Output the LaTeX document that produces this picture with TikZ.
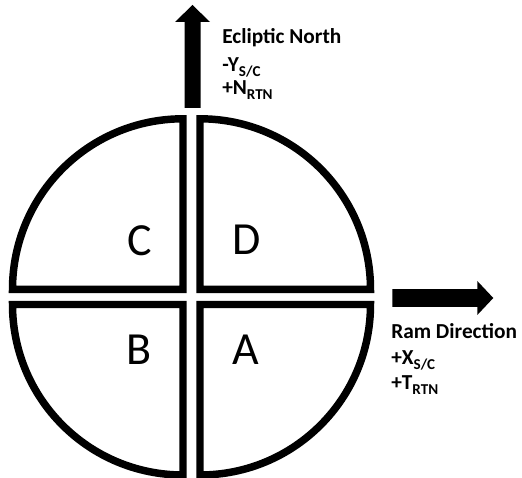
\documentclass[tikz,border=0pt]{standalone}
\usepackage{fontspec}
\setmainfont{Carlito}
\newcommand\sbs[1]{\raisebox{-3.7pt}{\fontsize{11.3pt}{13pt}\selectfont\bfseries #1}}
\begin{document}
\begin{tikzpicture}[x=0.75pt,y=0.75pt,
  quad/.style={draw=black,line width=5.6pt,line join=miter,fill=white},
  lbl/.style={inner sep=0pt,anchor=base west,font=\fontsize{16pt}{19pt}\selectfont\bfseries},
  big/.style={inner sep=0pt,anchor=base,font=\fontsize{34.5pt}{40pt}\selectfont},
  arr/.style={fill=black,draw=none}]
\useasboundingbox (0,0) rectangle (522,478);
\def\R{170.5}
% quadrants
\draw[quad] (183,188.7) -- ++(-\R,0) arc[start angle=180,end angle=90,radius=\R] -- cycle;
\draw[quad] (200,188.7) -- ++(\R,0) arc[start angle=0,end angle=90,radius=\R] -- cycle;
\draw[quad] (183,173.5) -- ++(-\R,0) arc[start angle=180,end angle=270,radius=\R] -- cycle;
\draw[quad] (200,173.5) -- ++(\R,0) arc[start angle=0,end angle=-90,radius=\R] -- cycle;
% letters
\node[big] (C) at (139.5,222.5) {C};
\node[big] (D) at (246.5,223) {D};
\node[big] (B) at (139.5,113.7) {B};
\node[big] (A) at (245.5,113.7) {A};
% up arrow
\fill[arr] (184.5,370) -- (184.5,456) -- (175,456) -- (192.5,473) -- (210,456) -- (200.5,456) -- (200.5,370) -- cycle;
% right arrow
\fill[arr] (392.3,171.2) -- (477.3,171.2) -- (477.3,163) -- (493.3,180) -- (477.3,197) -- (477.3,188.8) -- (392.3,188.8) -- cycle;
% texts
\node[lbl] (en) at (222,434.7) {Ecliptic North};
\node[lbl] (ys) at (222,406.3) {-Y\sbs{S/C}};
\node[lbl] (nr) at (222,383.7) {+N\sbs{RTN}};
\node[lbl] (rd) at (391,139.7) {Ram Direction};
\node[lbl] (xs) at (391,113) {+X\sbs{S/C}};
\node[lbl] (tr) at (391,88) {+T\sbs{RTN}};
\end{tikzpicture}
\end{document}
